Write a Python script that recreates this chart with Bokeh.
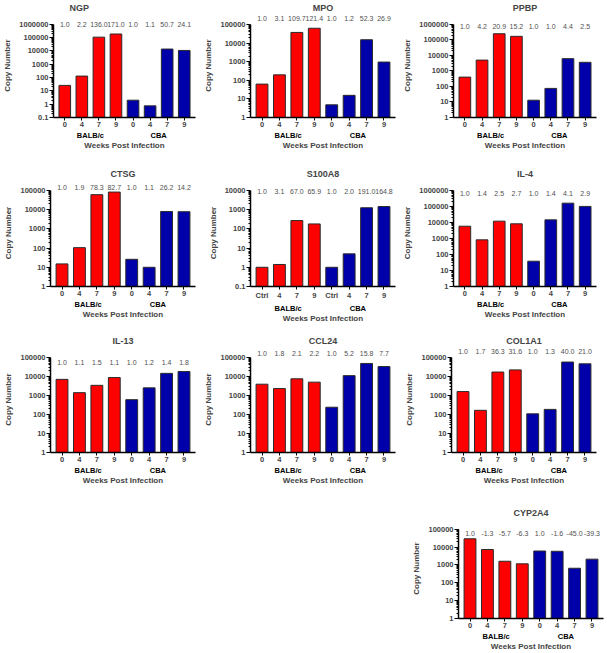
import math
from bokeh.plotting import figure
from bokeh.models import (FactorRange, FixedTicker, CustomJSTickFormatter, Spacer,
                          ColumnDataSource, Range1d)
from bokeh.layouts import column, row
from bokeh.embed import file_html
from bokeh.resources import INLINE
from bokeh.core.properties import value

# ---------------- data ----------------
strains = ["BALB/c", "CBA"]
weeks = ["0", "4", "7", "9"]
weeks_ctrl = ["Ctrl", "4", "7", "9"]

ngp_copies = [26, 130, 110000, 190000, 2.0, 0.75, 14000, 11000]
ngp_fold = ["1.0", "2.2", "136.0", "171.0", "1.0", "1.1", "50.7", "24.1"]

mpo_copies = [62, 195, 37000, 62000, 4.8, 15.5, 15000, 950]
mpo_fold = ["1.0", "3.1", "109.7", "121.4", "1.0", "1.2", "52.3", "26.9"]

ppbp_copies = [400, 5000, 250000, 170000, 13, 75, 6200, 3600]
ppbp_fold = ["1.0", "4.2", "20.9", "15.2", "1.0", "1.0", "4.4", "2.5"]

ctsg_copies = [15, 105, 60000, 82000, 26, 10, 8000, 7800]
ctsg_fold = ["1.0", "1.9", "78.3", "82.7", "1.0", "1.1", "26.2", "14.2"]

s100a8_copies = [1.0, 1.4, 270, 180, 1.0, 5.0, 1250, 1450]
s100a8_fold = ["1.0", "3.1", "67.0", "65.9", "1.0", "2.0", "191.0", "164.8"]

il4_copies = [5800, 820, 12000, 8200, 38, 14500, 160000, 100000]
il4_fold = ["1.0", "1.4", "2.5", "2.7", "1.0", "1.4", "4.1", "2.9"]

il13_copies = [7000, 1400, 3400, 8700, 600, 2500, 14500, 18000]
il13_fold = ["1.0", "1.1", "1.5", "1.1", "1.0", "1.2", "1.4", "1.8"]

ccl24_copies = [3900, 2300, 7500, 5000, 240, 11000, 48000, 33000]
ccl24_fold = ["1.0", "1.8", "2.1", "2.2", "1.0", "5.2", "15.8", "7.7"]

col1a1_copies = [1600, 165, 17000, 22000, 108, 185, 57000, 46000]
col1a1_fold = ["1.0", "1.7", "36.3", "31.6", "1.0", "1.3", "40.0", "21.0"]

cyp2a4_copies = [29000, 7300, 1600, 1150, 6000, 5800, 650, 2100]
cyp2a4_fold = ["1.0", "-1.3", "-5.7", "-6.3", "1.0", "-1.6", "-45.0", "-39.3"]

# title, copies, folds, week labels, y axis min, y axis max
panels = [
    ("NGP", ngp_copies, ngp_fold, weeks, 0.1, 1000000),
    ("MPO", mpo_copies, mpo_fold, weeks, 1, 100000),
    ("PPBP", ppbp_copies, ppbp_fold, weeks, 1, 1000000),
    ("CTSG", ctsg_copies, ctsg_fold, weeks, 1, 100000),
    ("S100A8", s100a8_copies, s100a8_fold, weeks_ctrl, 0.1, 10000),
    ("IL-4", il4_copies, il4_fold, weeks, 1, 1000000),
    ("IL-13", il13_copies, il13_fold, weeks, 1, 100000),
    ("CCL24", ccl24_copies, ccl24_fold, weeks, 1, 100000),
    ("COL1A1", col1a1_copies, col1a1_fold, weeks, 1, 100000),
    ("CYP2A4", cyp2a4_copies, cyp2a4_fold, weeks, 1, 100000),
]

# ---------------- style / layout ----------------
FONT = "Liberation Sans"
RED = "#FF0000"
BLUE = "#0000AA"
fold_offsets = [0, -6, 2, -3, 1, 3, 5, -4, -6, 4]   # px, label offset from top tick
# title placement: None = centred over the frame, number = left offset in px
title_left = [16, None, None, None, None, None, None, None, None, None]
row_heights = [166, 167, 172, 148]
axis_heights = [94, 97, 96, 92]
col_widths = [200, 200, 207]
col_left = [50, 50, 51]
FRAME_W = 145
TOP = 12
PAD = 11


def make_panel(idx, spec, width, left, height, axis_h):
    title, copies, folds, wk, ymin, ymax = spec
    factors = [(s, w) for s in strains for w in wk]
    xr = FactorRange(*factors, group_padding=0, factor_padding=0,
                     range_padding=0.16, range_padding_units="absolute")
    ndec = math.log10(ymax) - math.log10(ymin)
    ppd = axis_h / ndec
    ytop = 10 ** (math.log10(ymax) + PAD / ppd)
    p = figure(width=width, height=height, x_range=xr, y_axis_type="log",
               y_range=Range1d(ymin, ytop), output_backend="svg",
               toolbar_location=None, title=title,
               min_border_left=left, min_border_right=width - left - FRAME_W,
               min_border_top=TOP, min_border_bottom=height - TOP - PAD - axis_h)
    colors = [RED] * len(wk) + [BLUE] * len(wk)
    src = ColumnDataSource(dict(x=factors, top=copies, color=colors, fold=folds,
                                ylab=[ymax] * len(factors)))
    p.vbar(x="x", top="top", bottom=ymin, width=0.68, fill_color="color",
           line_color="#2a2a2a", line_width=1, source=src)
    p.text(x="x", y="ylab", text="fold", source=src, text_align="center",
           text_baseline="middle", y_offset=fold_offsets[idx],
           text_font=value(FONT), text_font_size="7px", text_color="#505050")

    if title_left[idx] is None:
        p.title.align = "center"
    else:
        p.title.align = "left"
        p.title.offset = title_left[idx]
    p.title.text_font = FONT
    p.title.text_font_size = "9px"
    p.title.text_font_style = "bold"
    p.title.standoff = 1

    p.outline_line_color = None
    p.xgrid.grid_line_color = None
    p.ygrid.grid_line_color = None
    p.background_fill_color = "white"
    p.border_fill_color = "white"

    decades = []
    e = round(math.log10(ymin))
    while e <= round(math.log10(ymax)):
        decades.append(10 ** e if e >= 0 else round(10 ** e, 6))
        e += 1
    minors = [d * k for d in decades[:-1] for k in range(2, 10)]
    ya = p.yaxis[0]
    ya.ticker = FixedTicker(ticks=decades, minor_ticks=minors)
    ya.formatter = CustomJSTickFormatter(code="return tick.toString();")
    ya.bounds = (ymin, ymax)
    ya.axis_line_width = 1.5
    ya.major_tick_out = 4
    ya.major_tick_in = 0
    ya.minor_tick_out = 2
    ya.minor_tick_in = 0
    ya.major_tick_line_width = 1
    ya.major_label_standoff = 1
    ya.major_label_text_font = FONT
    ya.major_label_text_font_size = "7.5px"
    ya.major_label_text_font_style = "bold"
    ya.axis_label = "Copy Number"
    ya.axis_label_text_font = FONT
    ya.axis_label_text_font_size = "8px"
    ya.axis_label_text_font_style = "bold"
    ya.axis_label_standoff = 4

    xa = p.xaxis[0]
    xa.axis_line_width = 1.5
    xa.major_tick_out = 3
    xa.major_tick_in = 0
    xa.minor_tick_out = 0
    xa.major_label_standoff = 1
    xa.major_label_text_font = FONT
    xa.major_label_text_font_size = "7.5px"
    xa.major_label_text_font_style = "bold"
    xa.group_text_font = FONT
    xa.group_text_font_size = "7.5px"
    xa.group_text_font_style = "bold"
    xa.group_text_color = "black"
    xa.separator_line_color = None
    xa.axis_label = "Weeks Post Infection"
    xa.axis_label_text_font = FONT
    xa.axis_label_text_font_size = "8px"
    xa.axis_label_text_font_style = "bold"
    xa.axis_label_standoff = -2
    return p


figs = []
for i, spec in enumerate(panels[:9]):
    r, c = divmod(i, 3)
    figs.append(make_panel(i, spec, col_widths[c], col_left[c], row_heights[r], axis_heights[r]))
last = make_panel(9, panels[9], 207, 58, row_heights[3], axis_heights[3])

layout = column(
    row(figs[0], figs[1], figs[2]),
    row(figs[3], figs[4], figs[5]),
    row(figs[6], figs[7], figs[8]),
    row(Spacer(width=400, height=row_heights[3]), last),
)

open("out.html", "w").write(file_html(layout, INLINE))
